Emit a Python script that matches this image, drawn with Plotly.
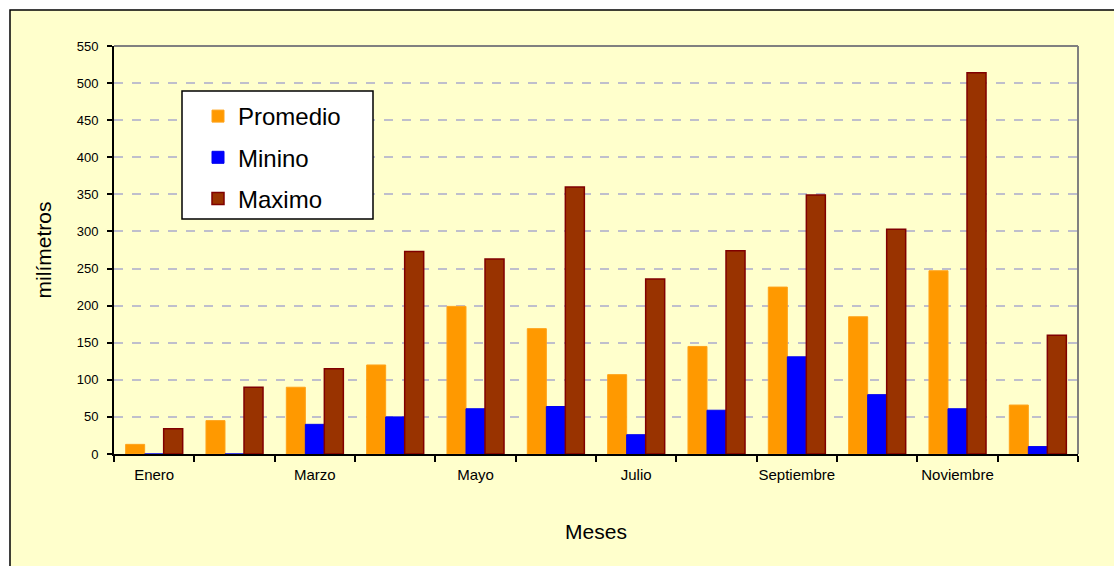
import plotly.graph_objects as go

meses = ["Enero", "Febrero", "Marzo", "Abril", "Mayo", "Junio", "Julio",
         "Agosto", "Septiembre", "Octubre", "Noviembre", "Diciembre"]
promedio = [13, 45, 90, 120, 199, 169, 107, 145, 225, 185, 247, 66]
minino = [0, 0, 40, 50, 61, 64, 26, 59, 131, 80, 61, 10]
maximo = [34, 90, 115, 273, 263, 360, 236, 274, 349, 303, 514, 160]

W, H = 1114, 566
L, R, T, B = 114, 36, 46, 112
pw, ph = W - L - R, H - T - B


def px_x(p):
    return (p - L) / pw


def px_y(p):
    return (H - B - p) / ph


FONT = "Arial, Liberation Sans, sans-serif"
xs = list(range(len(meses)))

fig = go.Figure()
fig.add_bar(x=xs, y=promedio, name="Promedio", legendgroup="a",
            marker=dict(color="#FF9900", line=dict(color="#FFA31A", width=1)))
fig.add_bar(x=xs, y=minino, name="Minino", legendgroup="b",
            marker=dict(color="#0000FF", line=dict(color="#0000EE", width=1)))
fig.add_bar(x=xs, y=maximo, name="Maximo", legendgroup="c",
            marker=dict(color="#993300", line=dict(color="#800000", width=1.5)))

shapes = [
    # outer chart frame
    dict(type="rect", xref="paper", yref="paper",
         x0=px_x(10), x1=px_x(1130), y0=px_y(580), y1=px_y(10),
         fillcolor="#FFFFCC", line=dict(color="black", width=1.5), layer="below"),
    # plot area top and right borders
    dict(type="line", xref="paper", yref="paper", x0=0, x1=1, y0=1, y1=1,
         line=dict(color="#808080", width=2)),
    dict(type="line", xref="paper", yref="paper", x0=1, x1=1, y0=0, y1=1,
         line=dict(color="#808080", width=2)),
    # legend box
    dict(type="rect", xref="paper", yref="paper",
         x0=px_x(182), x1=px_x(373), y0=px_y(219), y1=px_y(91),
         fillcolor="white", line=dict(color="black", width=1.5), layer="above"),
]

fig.update_layout(
    width=W, height=H,
    margin=dict(l=L, r=R, t=T, b=B, autoexpand=False),
    paper_bgcolor="white", plot_bgcolor="#FFFFCC",
    barmode="group", bargap=0.29, bargroupgap=0.0,
    font=dict(family=FONT, color="black", size=13),
    shapes=shapes,
    showlegend=True,
    legend=dict(x=px_x(198), y=px_y(94), xanchor="left", yanchor="top",
                bgcolor="rgba(0,0,0,0)", borderwidth=0,
                font=dict(size=24, family=FONT),
                traceorder="grouped", tracegroupgap=7),
    xaxis=dict(range=[-0.5, 11.5], tickvals=xs[::2], ticktext=meses[::2],
               ticks="outside", ticklen=5, tickcolor="rgba(0,0,0,0)",
               minor=dict(ticks="outside", ticklen=6, tick0=-0.5, dtick=1,
                          tickcolor="black", tickwidth=1.5),
               showline=True, linecolor="black", linewidth=2,
               showgrid=False, zeroline=False,
               tickfont=dict(size=15), ticklabelstandoff=1,
               title=dict(text="Meses", font=dict(size=21), standoff=42)),
    yaxis=dict(range=[0, 550], dtick=50, ticks="outside", ticklen=5,
               tickcolor="black", tickwidth=1.5,
               showline=True, linecolor="black", linewidth=2,
               showgrid=True, gridcolor="#BFBFCC", gridwidth=1.5, griddash="dash",
               zeroline=False, tickfont=dict(size=13), ticklabelstandoff=6,
               title=dict(text="milímetros", font=dict(size=21), standoff=19)),
)

fig.write_html("out.html")
